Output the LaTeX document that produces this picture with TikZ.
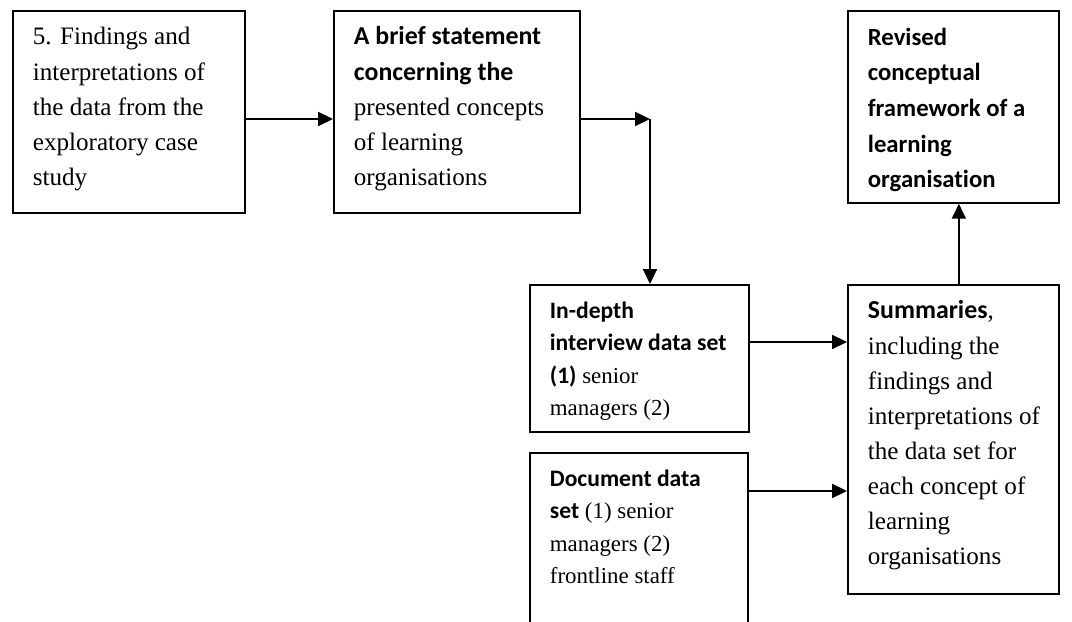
\documentclass[tikz,border=0pt]{standalone}
\usepackage{fontspec}
\setmainfont{Liberation Serif}[Ligatures={TeX,CommonOff}]
\newfontfamily\headfont{Carlito}[Ligatures=CommonOff,Scale=1.03]
\usetikzlibrary{arrows.meta}
\tikzset{
  stagebox/.style={draw,line width=1pt,anchor=north west,inner xsep=0pt,inner ysep=5.2pt,
    font=\fontsize{13.8}{19.3}\selectfont},
  setbox/.style={stagebox,inner ysep=6pt,font=\fontsize{12.6}{17.8}\selectfont},
  flow/.style={-{Triangle[length=8.2pt,width=7.7pt]},line width=1pt}
}
\newcommand{\stagetext}[3]{\parbox[t][#1][t]{#2}{\raggedright\leftskip=11pt\strut #3}}
\newcommand{\hd}[1]{{\headfont\bfseries #1}}

\begin{document}
\begin{tikzpicture}[x=0.55pt,y=-0.55pt]
\useasboundingbox (0,0) rectangle (1072,622);
\clip (0,0) rectangle (1072,622);
% ---- top row ----
\node[stagebox] (findings) at (12,10)
  {\stagetext{100.7pt}{127.6pt}{5. Findings and\\ interpretations of\\ the data from the\\ exploratory case\\ study}};
\node[stagebox] (statement) at (333,10)
  {\stagetext{100.7pt}{135.3pt}{\hd{A brief statement}\\ \hd{concerning the}\\ presented concepts\\ of learning\\ organisations}};
\node[stagebox,font=\fontsize{13.2}{19.6}\selectfont] (revised) at (847,10)
  {\stagetext{95.2pt}{116.05pt}{\hd{Revised}\\ \hd{conceptual}\\ \hd{framework of a}\\ \hd{learning}\\ \hd{organisation}}};
% ---- data sets and summaries ----
\node[setbox] (interview) at (529,284)
  {\stagetext{68.85pt}{120.45pt}{\hd{In-depth}\\ \hd{interview data set}\\ \hd{(1)} senior\\ managers (2)}};
\node[setbox] (document) at (529,452)
  {\stagetext{91.4pt}{119.9pt}{\hd{Document data}\\ \hd{set} (1) senior\\ managers (2)\\ frontline staff}};
\node[stagebox] (summary) at (847,284)
  {\stagetext{159.6pt}{116.05pt}{\hd{Summaries}, \\ including the\\ findings and\\ interpretations of\\ the data set for\\ each concept of\\ learning\\ organisations}};
% ---- connectors ----
\coordinate (bend) at (650,119);
\coordinate (toA) at (800,342);
\coordinate (toB) at (800,491);
\draw[flow] (findings.east |- bend) -- (statement.west |- bend);
\draw[flow] (statement.east |- bend) -- (bend);
\draw[flow] (bend) -- (bend |- interview.north);
\draw[flow] (interview.east |- toA) -- (summary.west |- toA);
\draw[flow] (document.east |- toB) -- (summary.west |- toB);
\draw[flow] ([xshift=3pt]summary.north) -- ([xshift=3pt]revised.south);
\end{tikzpicture}
\end{document}
